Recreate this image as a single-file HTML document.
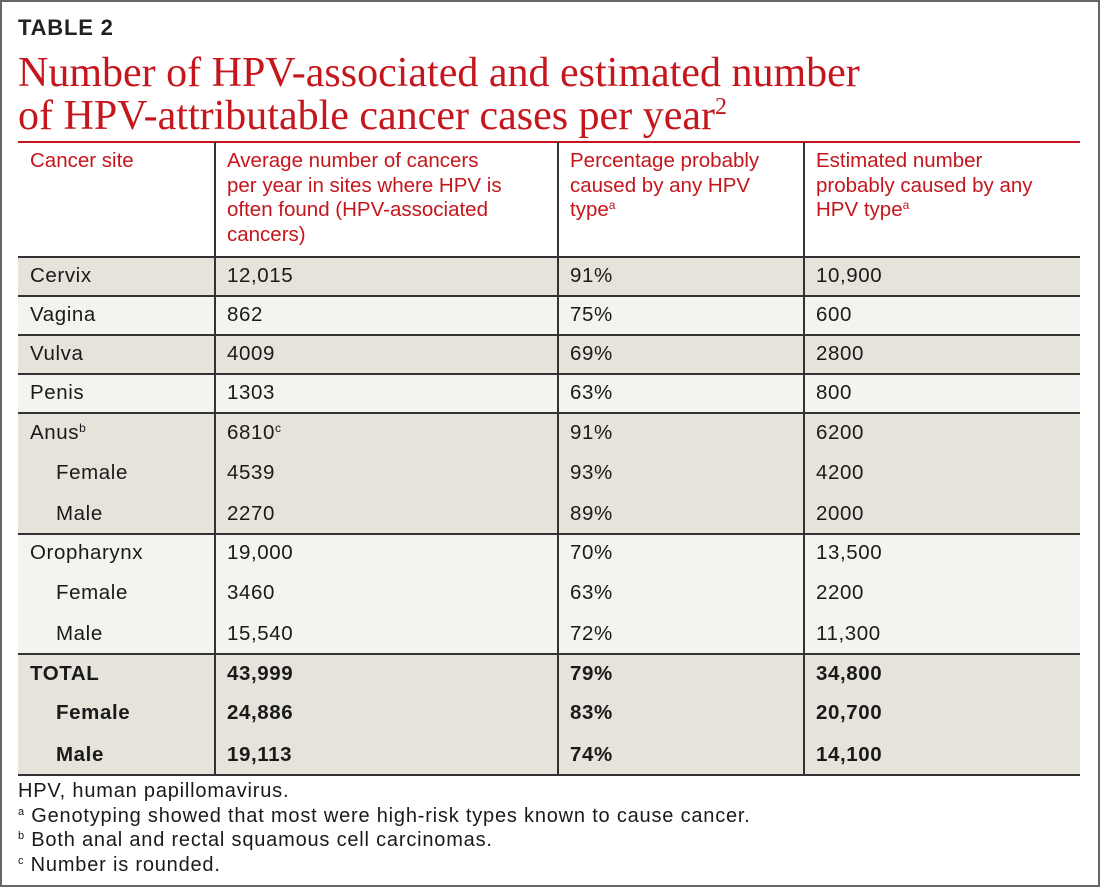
<!DOCTYPE html>
<html><head><meta charset="utf-8"><style>
*{margin:0;padding:0;box-sizing:border-box}
body{width:1100px;height:887px;position:relative;background:#fff;font-family:"Liberation Sans",sans-serif;overflow:hidden}
.frame{position:absolute;left:0;top:0;width:1100px;height:887px;border:2px solid #666}
.abs{position:absolute}
.lbl{position:absolute;left:18px;top:15px;font-weight:bold;font-size:22px;color:#222;letter-spacing:0.8px}
.title{position:absolute;left:18px;top:52px;font-family:"Liberation Serif",serif;font-size:42px;line-height:43px;color:#c4161c;white-space:nowrap}
.title sup{font-size:24px;vertical-align:15px;line-height:0}
.hdr{position:absolute;top:149px;font-size:20.5px;line-height:24.7px;color:#c4161c;letter-spacing:0px;white-space:nowrap}
.hdr sup,.c sup{font-size:12px;vertical-align:7px;line-height:0}
.row{position:absolute;left:18px;width:1062px}
.c{position:absolute;font-size:20.5px;color:#1a1a1a;white-space:nowrap;letter-spacing:0.6px}
.b{font-weight:bold}
.hl{position:absolute;left:18px;width:1062px;background:#333}
.vl{position:absolute;width:2px;background:#333;top:142px;height:633px}
.foot{position:absolute;left:18px;top:779px;font-size:20px;line-height:24.7px;color:#1a1a1a;letter-spacing:0.8px;white-space:nowrap}
.foot sup{font-size:11px;vertical-align:7px;line-height:0}
</style></head><body>
<div class="frame"></div>
<div class="lbl">TABLE 2</div>
<div class="title">Number of HPV-associated and estimated number<br>of HPV-attributable cancer cases per year<sup>2</sup></div>
<div class="abs" style="left:18px;top:141px;width:1062px;height:2px;background:#c4161c"></div>

<div class="hdr" style="left:227px;top:149px">Average number of cancers<br>per year in sites where HPV is<br>often found (HPV-associated<br>cancers)</div>
<div class="hdr" style="left:30px">Cancer site</div>
<div class="hdr" style="left:570px">Percentage probably<br>caused by any HPV<br>type<sup>a</sup></div>
<div class="hdr" style="left:816px">Estimated number<br>probably caused by any<br>HPV type<sup>a</sup></div>

<div class="row" style="top:257px;height:39px;background:#e6e3da"></div>
<div class="row" style="top:296px;height:39px;background:#f4f3ef"></div>
<div class="row" style="top:335px;height:39px;background:#e6e3da"></div>
<div class="row" style="top:374px;height:39px;background:#f4f3ef"></div>
<div class="row" style="top:413px;height:121px;background:#e6e3da"></div>
<div class="row" style="top:534px;height:120px;background:#f4f3ef"></div>
<div class="row" style="top:654px;height:121px;background:#e6e3da"></div>

<div class="hl" style="top:256px;height:2px"></div>
<div class="hl" style="top:295px;height:2px"></div>
<div class="hl" style="top:334px;height:2px"></div>
<div class="hl" style="top:373px;height:2px"></div>
<div class="hl" style="top:412px;height:2px"></div>
<div class="hl" style="top:533px;height:2px"></div>
<div class="hl" style="top:653px;height:2px"></div>
<div class="hl" style="top:774px;height:2px"></div>
<div class="vl" style="left:214px"></div>
<div class="vl" style="left:557px"></div>
<div class="vl" style="left:803px"></div>

<div class="c" style="left:30px;top:264px">Cervix</div><div class="c" style="left:227px;top:264px">12,015</div><div class="c" style="left:570px;top:264px">91%</div><div class="c" style="left:816px;top:264px">10,900</div>
<div class="c" style="left:30px;top:303px">Vagina</div><div class="c" style="left:227px;top:303px">862</div><div class="c" style="left:570px;top:303px">75%</div><div class="c" style="left:816px;top:303px">600</div>
<div class="c" style="left:30px;top:342px">Vulva</div><div class="c" style="left:227px;top:342px">4009</div><div class="c" style="left:570px;top:342px">69%</div><div class="c" style="left:816px;top:342px">2800</div>
<div class="c" style="left:30px;top:381px">Penis</div><div class="c" style="left:227px;top:381px">1303</div><div class="c" style="left:570px;top:381px">63%</div><div class="c" style="left:816px;top:381px">800</div>
<div class="c" style="left:30px;top:421px">Anus<sup>b</sup></div><div class="c" style="left:227px;top:421px">6810<sup>c</sup></div><div class="c" style="left:570px;top:421px">91%</div><div class="c" style="left:816px;top:421px">6200</div>
<div class="c" style="left:56px;top:461px">Female</div><div class="c" style="left:227px;top:461px">4539</div><div class="c" style="left:570px;top:461px">93%</div><div class="c" style="left:816px;top:461px">4200</div>
<div class="c" style="left:56px;top:502px">Male</div><div class="c" style="left:227px;top:502px">2270</div><div class="c" style="left:570px;top:502px">89%</div><div class="c" style="left:816px;top:502px">2000</div>
<div class="c" style="left:30px;top:541px">Oropharynx</div><div class="c" style="left:227px;top:541px">19,000</div><div class="c" style="left:570px;top:541px">70%</div><div class="c" style="left:816px;top:541px">13,500</div>
<div class="c" style="left:56px;top:581px">Female</div><div class="c" style="left:227px;top:581px">3460</div><div class="c" style="left:570px;top:581px">63%</div><div class="c" style="left:816px;top:581px">2200</div>
<div class="c" style="left:56px;top:622px">Male</div><div class="c" style="left:227px;top:622px">15,540</div><div class="c" style="left:570px;top:622px">72%</div><div class="c" style="left:816px;top:622px">11,300</div>
<div class="c b" style="left:30px;top:662px">TOTAL</div><div class="c b" style="left:227px;top:662px">43,999</div><div class="c b" style="left:570px;top:662px">79%</div><div class="c b" style="left:816px;top:662px">34,800</div>
<div class="c b" style="left:56px;top:701px">Female</div><div class="c b" style="left:227px;top:701px">24,886</div><div class="c b" style="left:570px;top:701px">83%</div><div class="c b" style="left:816px;top:701px">20,700</div>
<div class="c b" style="left:56px;top:743px">Male</div><div class="c b" style="left:227px;top:743px">19,113</div><div class="c b" style="left:570px;top:743px">74%</div><div class="c b" style="left:816px;top:743px">14,100</div>

<div class="foot">HPV, human papillomavirus.<br><sup>a</sup> Genotyping showed that most were high-risk types known to cause cancer.<br><sup>b</sup> Both anal and rectal squamous cell carcinomas.<br><sup>c</sup> Number is rounded.</div>
</body></html>
